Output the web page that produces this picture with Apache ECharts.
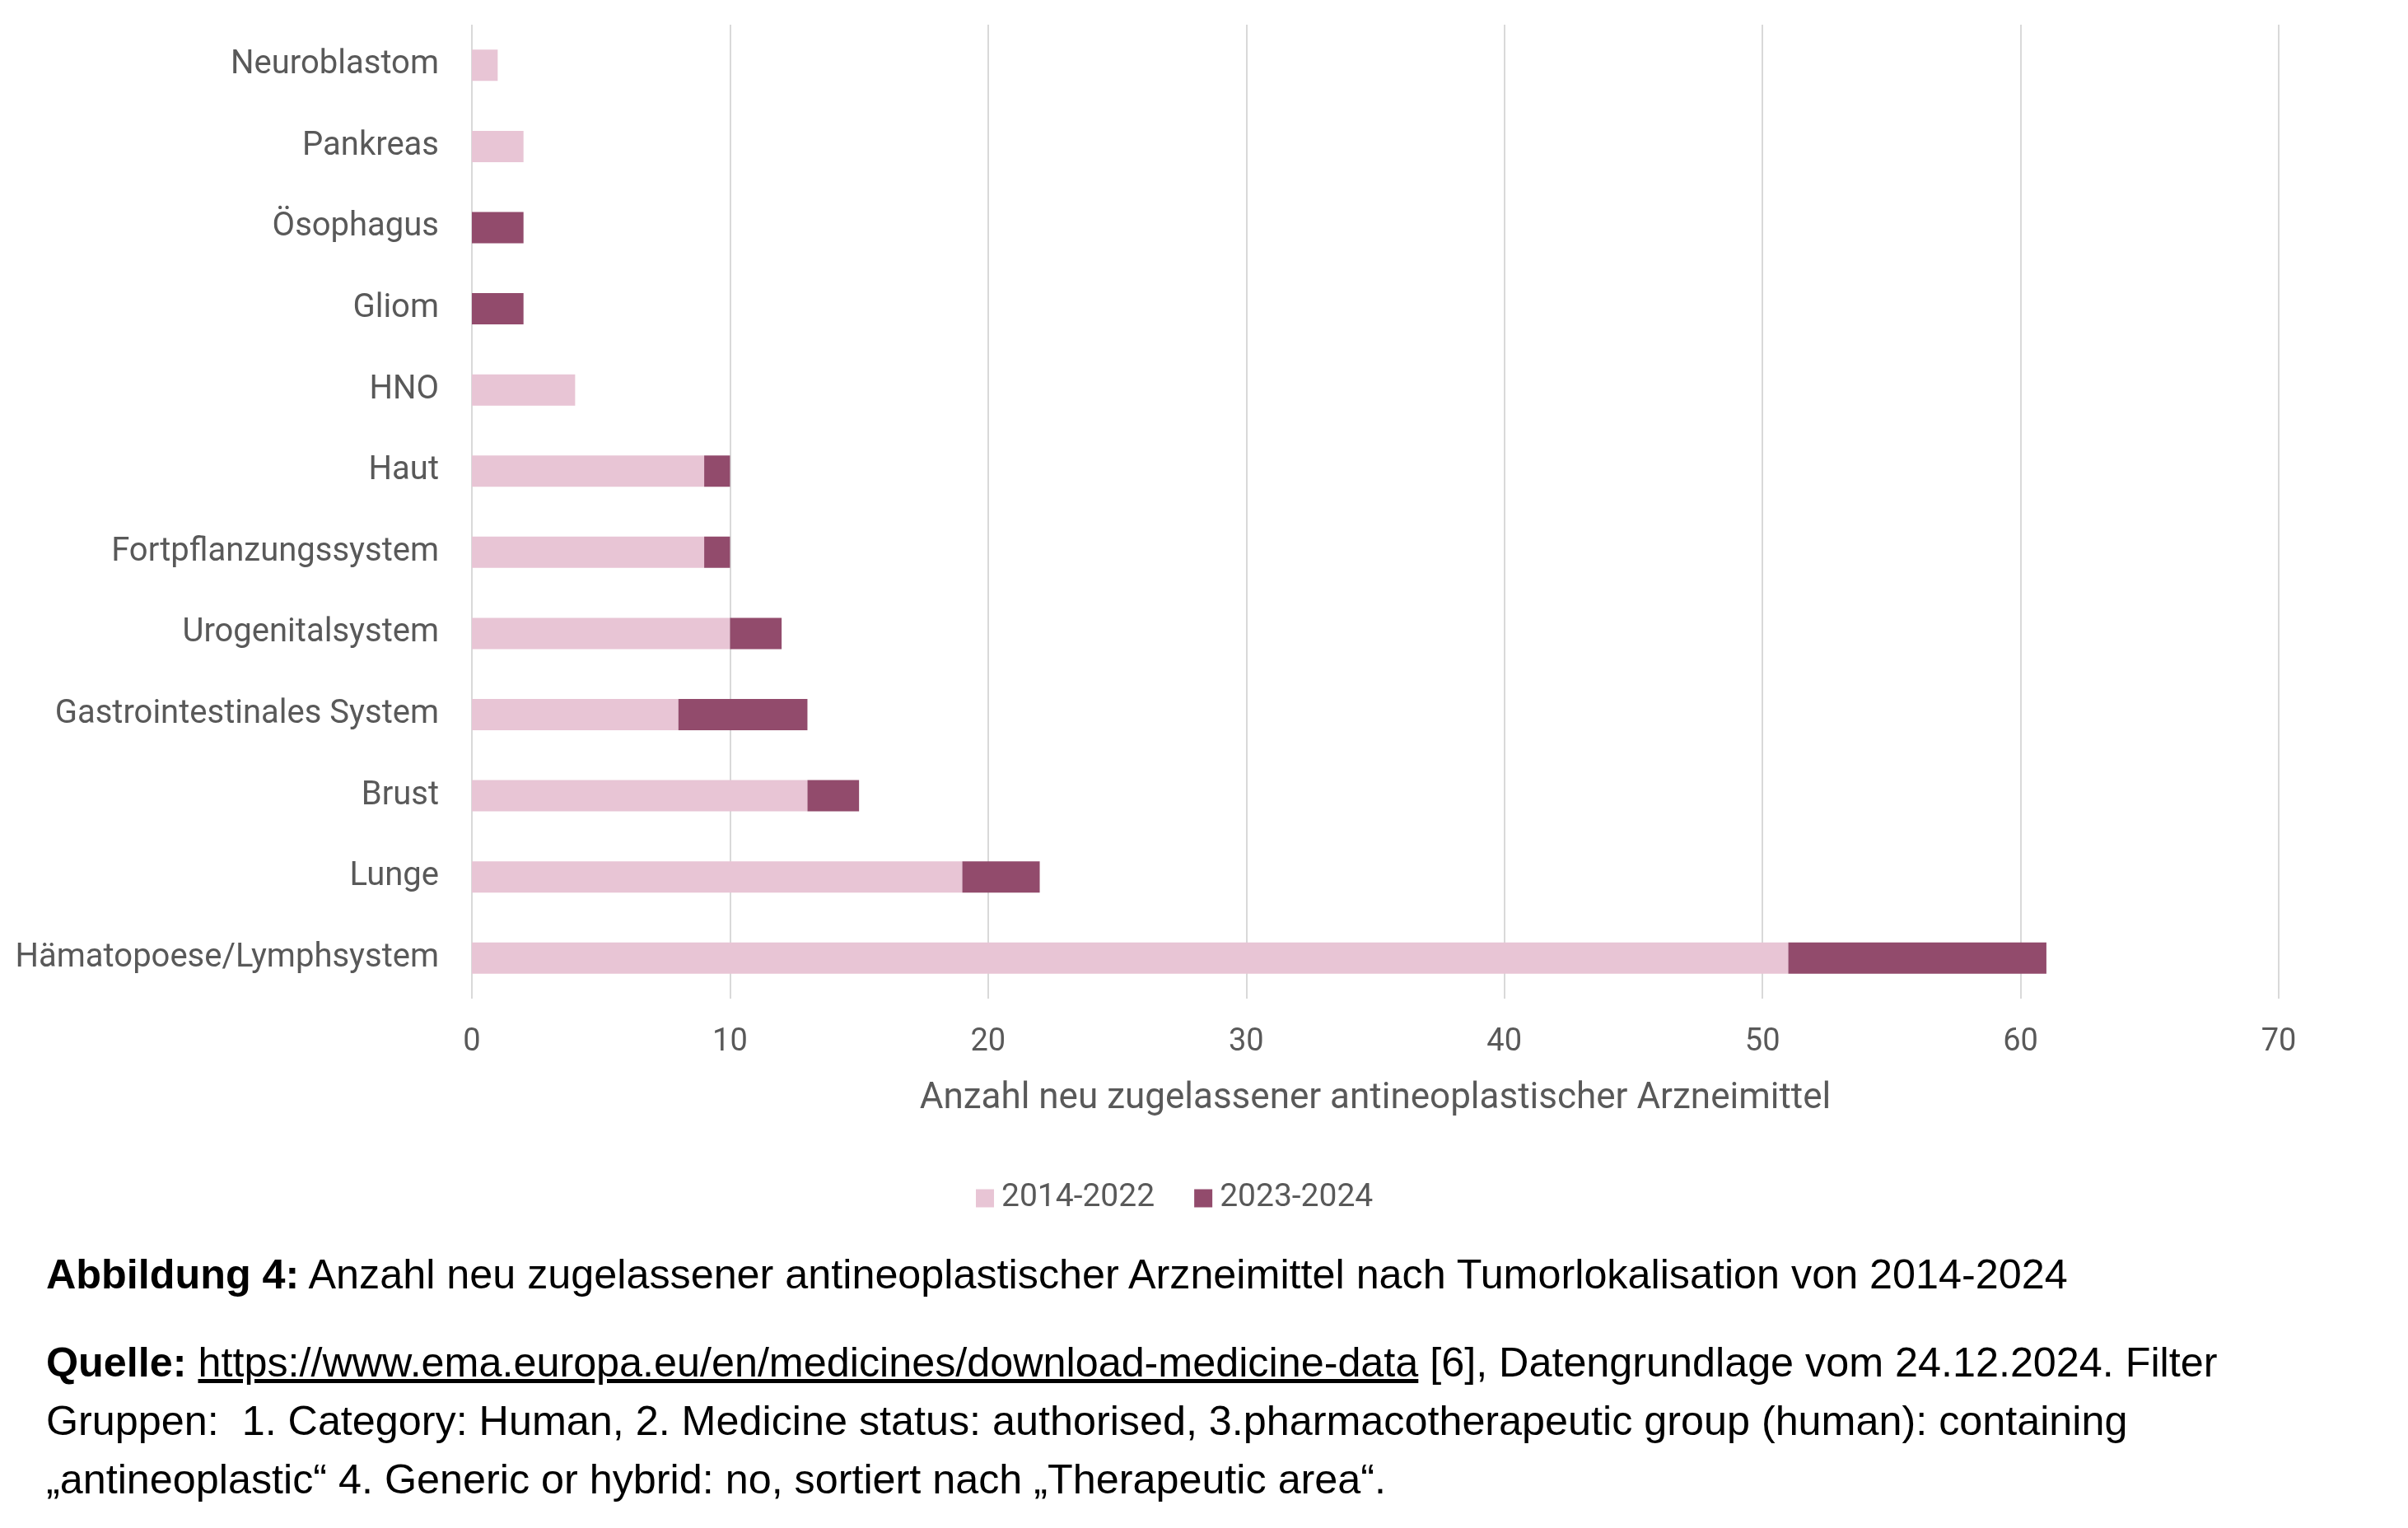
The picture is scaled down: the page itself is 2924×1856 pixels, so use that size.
<!DOCTYPE html>
<html>
<head>
<meta charset="utf-8">
<script src="https://cdn.jsdelivr.net/npm/echarts@6/dist/echarts.min.js"></script>
<style>
  html, body { margin: 0; padding: 0; background: #fff; }
  #chart { position: absolute; left: 0; top: 0; width: 2924px; height: 1856px; }
  .cap { position: absolute; left: 56px; font-family: "Liberation Sans", Arial, sans-serif; font-size: 50.3px; line-height: 71px; color: #000; white-space: pre; }
  .cap b { font-weight: bold; }
  .cap u { text-decoration: underline; }
</style>
</head>
<body>
<div id="chart"></div>
<div class="cap" style="top:1512px;"><b>Abbildung 4:</b> Anzahl neu zugelassener antineoplastischer Arzneimittel nach Tumorlokalisation von 2014-2024</div>
<div class="cap" style="top:1619px;"><b>Quelle:</b> <u>https://www.ema.europa.eu/en/medicines/download-medicine-data</u> [6], Datengrundlage vom 24.12.2024. Filter</div>
<div class="cap" style="top:1690px;">Gruppen:  1. Category: Human, 2. Medicine status: authorised, 3.pharmacotherapeutic group (human): containing</div>
<div class="cap" style="top:1761px;">„antineoplastic“ 4. Generic or hybrid: no, sortiert nach „Therapeutic area“.</div>
<script>
const categories = ["Neuroblastom", "Pankreas", "Ösophagus", "Gliom", "HNO", "Haut", "Fortpflanzungssystem", "Urogenitalsystem", "Gastrointestinales System", "Brust", "Lunge", "Hämatopoese/Lymphsystem"];
const series2014_2022 = [1, 2, 0, 0, 4, 9, 9, 10, 8, 13, 19, 51];
const series2023_2024 = [0, 0, 2, 2, 0, 1, 1, 2, 5, 2, 3, 10];
const seriesNames = ["2014-2022", "2023-2024"];
const xTicks = { min: 0, max: 70, interval: 10 };

const textColor = "#595959";
const fontFam = "Roboto, 'Liberation Sans', sans-serif";

const chart = echarts.init(document.getElementById("chart"), null, { renderer: "canvas" });
chart.setOption({
  backgroundColor: "#ffffff",
  animation: false,
  grid: { left: 573, right: 157, top: 30, bottom: 643, containLabel: false },
  legend: {
    left: 1180, top: 1431,
    itemWidth: 22, itemHeight: 22, itemGap: 48,
    icon: "rect",
    data: seriesNames,
    textStyle: { color: textColor, fontSize: 39, fontFamily: fontFam, padding: [0, 0, 0, 4] }
  },
  xAxis: {
    type: "value",
    min: xTicks.min, max: xTicks.max, interval: xTicks.interval,
    name: "Anzahl neu zugelassener antineoplastischer Arzneimittel",
    nameLocation: "middle",
    nameGap: 100,
    nameTextStyle: { color: textColor, fontSize: 44, fontFamily: fontFam },
    axisLine: { show: false },
    axisTick: { show: false },
    axisLabel: { color: textColor, fontSize: 38, fontFamily: fontFam, margin: 34 },
    splitLine: { show: true, lineStyle: { color: "#D9D9D9", width: 2 } }
  },
  yAxis: {
    type: "category",
    inverse: true,
    data: categories,
    axisLine: { show: false },
    axisTick: { show: false },
    axisLabel: { color: textColor, fontSize: 40, fontFamily: fontFam, margin: 40 },
    splitLine: { show: false }
  },
  series: [
    {
      name: seriesNames[0], type: "bar", stack: "total", barWidth: 38,
      itemStyle: { color: "#E8C5D5" },
      data: series2014_2022
    },
    {
      name: seriesNames[1], type: "bar", stack: "total", barWidth: 38,
      itemStyle: { color: "#924B6C" },
      data: series2023_2024
    }
  ]
});
</script>
</body>
</html>
